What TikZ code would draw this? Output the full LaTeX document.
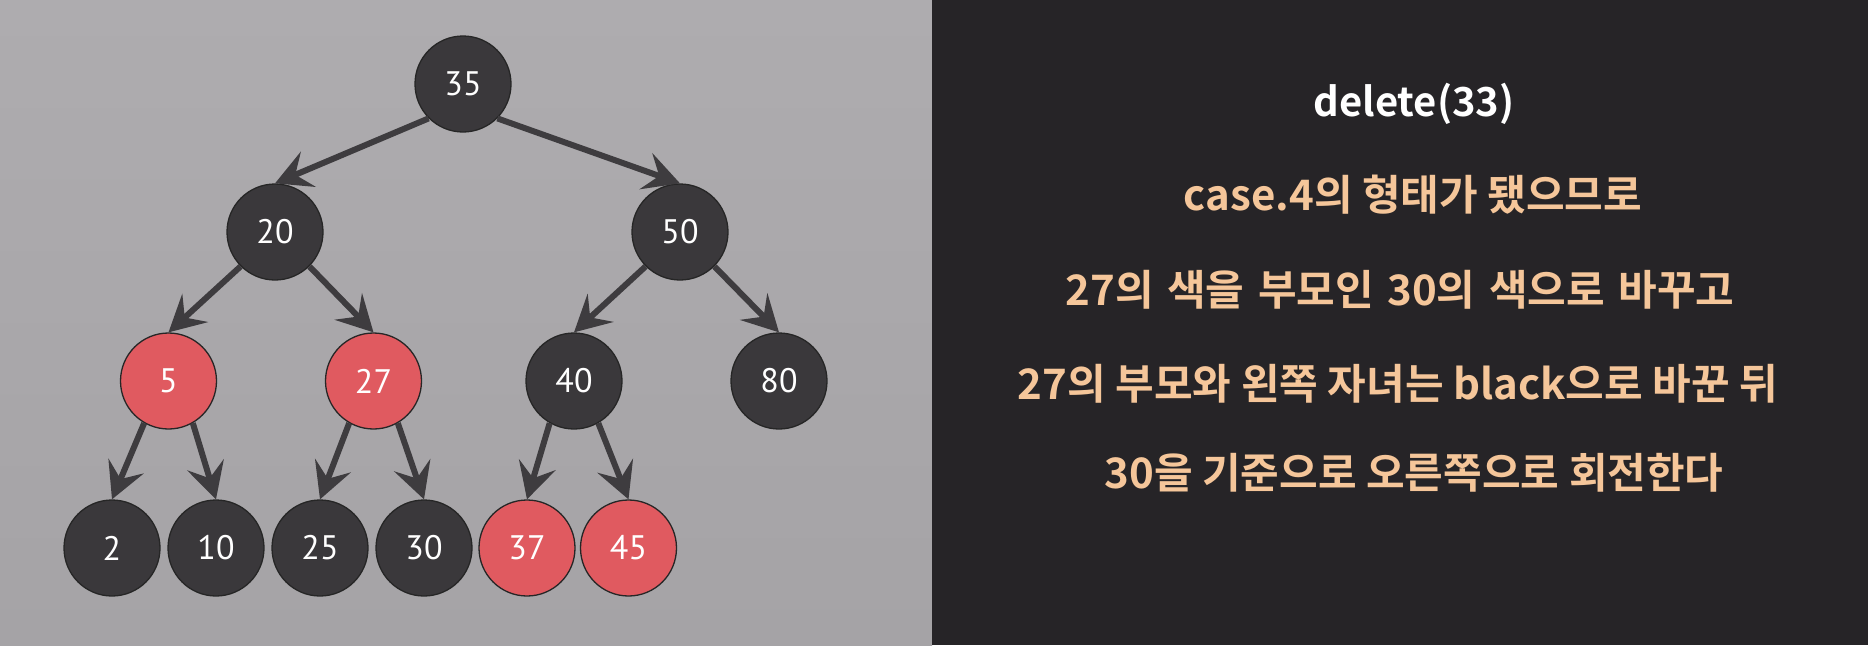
\documentclass[tikz,border=0pt]{standalone}
\usepackage{fontspec}
\setmainfont{PT Sans}
\newfontfamily\kr[BoldFont={Noto Sans CJK KR Bold}]{Noto Sans CJK KR}
\usetikzlibrary{arrows.meta}
\definecolor{bggray}{HTML}{AEACAF}
\definecolor{bggraydk}{HTML}{A5A3A6}
\definecolor{panel}{HTML}{262427}
\definecolor{nodedark}{HTML}{3A383B}
\definecolor{nodered}{HTML}{E05A60}
\definecolor{edgecol}{HTML}{3E3C3F}
\definecolor{peach}{HTML}{F5C69A}
\tikzset{
  rbnode/.style={circle, minimum size=96pt, inner sep=0pt, draw=black!85, line width=1.3pt,
    text=white, font=\fontsize{34}{36}\selectfont},
  blk/.style={rbnode, fill=nodedark},
  red/.style={rbnode, fill=nodered},
  edge/.style={draw=edgecol, line width=6pt,
    -{Stealth[length=36pt, width=38pt, inset=14pt]}},
  title/.style={text=white, font=\kr\bfseries\fontsize{40}{44}\selectfont},
  line/.style={text=peach, font=\kr\bfseries\fontsize{42}{46}\selectfont}
}
\begin{document}
\begin{tikzpicture}[x=1pt, y=-1pt]
\useasboundingbox (0,0) rectangle (1868,645);
\shade[top color=bggray, bottom color=bggraydk] (0,0) rectangle (932,645);
\fill[panel] (932,0) rectangle (1868,645);

\node[blk] (n35) at (463,84) {35};
\node[blk] (n20) at (275,232) {20};
\node[blk] (n50) at (680,232) {50};
\node[red] (n5) at (168.5,381) {5};
\node[red] (n27) at (373.5,381) {27};
\node[blk] (n40) at (574,381) {40};
\node[blk] (n80) at (779,381) {80};
\node[blk] (n2) at (112,548) {2};
\node[blk] (n10) at (216,548) {10};
\node[blk] (n25) at (320,548) {25};
\node[blk] (n30) at (424,548) {30};
\node[red] (n37) at (527,548) {37};
\node[red] (n45) at (628.5,548) {45};

\draw[edge] (n35.225) -- (n20.north);
\draw[edge] (n35.-45) -- (n50.north);
\draw[edge] (n20.225) -- (n5.north);
\draw[edge] (n20.-45) -- (n27.north);
\draw[edge] (n50.225) -- (n40.north);
\draw[edge] (n50.-45) -- (n80.north);
\draw[edge] (n5.240) -- (n2.north);
\draw[edge] (n5.-60) -- (n10.north);
\draw[edge] (n27.240) -- (n25.north);
\draw[edge] (n27.-60) -- (n30.north);
\draw[edge] (n40.240) -- (n37.north);
\draw[edge] (n40.-60) -- (n45.north);

\node[title] (t0) at (1414,104) {delete(33)};
\node[line] (t1) at (1413,195) {case.4의 형태가 됐으므로};
\node[line] (t2) at (1400,290) {\spaceskip=0.32em 27의 색을 부모인 30의 색으로 바꾸고};
\node[line] (t3) at (1398,384) {27의 부모와 왼쪽 자녀는 black으로 바꾼 뒤};
\node[line] (t4) at (1414,473) {30을 기준으로 오른쪽으로 회전한다};
\end{tikzpicture}
\end{document}
